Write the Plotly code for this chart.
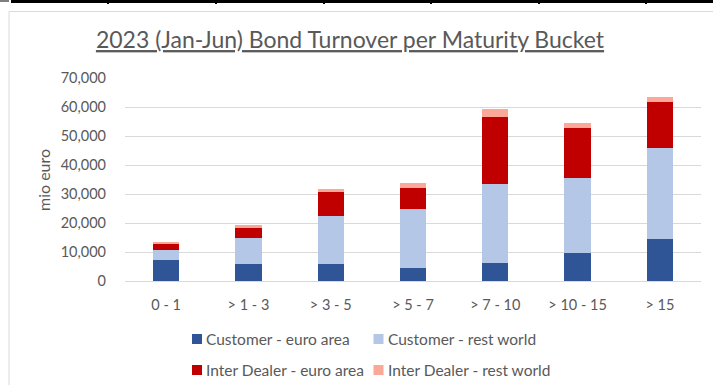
import plotly.graph_objects as go

# Maturity buckets (years) and turnover per segment, mio euro
buckets = ["0 - 1", "> 1 - 3", "> 3 - 5", "> 5 - 7", "> 7 - 10", "> 10 - 15", "> 15"]
customer_euro_area = [7400, 6000, 5800, 4400, 6200, 9800, 14400]
customer_rest_world = [3460, 8750, 16700, 20500, 27250, 25700, 31400]
dealer_euro_area = [1830, 3460, 8100, 7150, 23150, 17300, 16000]
dealer_rest_world = [700, 1140, 1140, 1620, 2650, 1600, 1750]

series_names = [
    "Customer - euro area",
    "Customer - rest world",
    "Inter Dealer - euro area",
    "Inter Dealer - rest world",
]
series_values = [customer_euro_area, customer_rest_world, dealer_euro_area, dealer_rest_world]
series_colors = ["#2F5597", "#B4C7E7", "#C00000", "#FBA898"]

W, H = 713, 385
M_L, M_R, M_T, M_B = 125, 12, 78, 104
TEXT = "#595959"
FONT = "Lato"

fig = go.Figure()
for name, vals, col in zip(series_names, series_values, series_colors):
    fig.add_trace(go.Bar(
        x=buckets, y=vals, name=name, showlegend=False,
        marker=dict(color=col, line=dict(width=0)),
    ))


def px_x(px):
    return (px - M_L) / (W - M_L - M_R)


def px_y(py):
    return (H - M_B - py) / (H - M_T - M_B)


shapes = []
annotations = []
# chart frame
shapes.append(dict(type="rect", xref="paper", yref="paper",
                   x0=px_x(9), x1=px_x(W + 5), y0=px_y(11.5), y1=px_y(H + 5),
                   line=dict(color="#D9D9D9", width=1), fillcolor="rgba(0,0,0,0)", layer="below"))
# sheet cell border above the chart
shapes.append(dict(type="rect", xref="paper", yref="paper",
                   x0=px_x(11), x1=px_x(W), y0=px_y(0), y1=px_y(3),
                   line=dict(width=0), fillcolor="#000000"))
shapes.append(dict(type="rect", xref="paper", yref="paper",
                   x0=px_x(0), x1=px_x(9), y0=px_y(0), y1=px_y(2),
                   line=dict(width=0), fillcolor="#7F7F7F"))
for cx in [108, 216, 324, 431, 539, 646]:
    shapes.append(dict(type="rect", xref="paper", yref="paper",
                       x0=px_x(cx - 1), x1=px_x(cx + 1), y0=px_y(0), y1=px_y(4),
                       line=dict(width=0), fillcolor="#000000"))

# legend: 2 x 2 grid of colour key + series name
legend_cols = [192, 373.5]
legend_rows = [339, 370]
for i, (name, col) in enumerate(zip(series_names, series_colors)):
    lx = legend_cols[i % 2]
    ly = legend_rows[i // 2]
    shapes.append(dict(type="rect", xref="paper", yref="paper",
                       x0=px_x(lx), x1=px_x(lx + 10), y0=px_y(ly + 5), y1=px_y(ly - 5),
                       line=dict(width=0), fillcolor=col))
    annotations.append(dict(
        text=name, showarrow=False, xref="paper", yref="paper",
        x=px_x(lx + 12), y=px_y(ly), xanchor="left", yanchor="middle",
        font=dict(family=FONT, size=15.5, color=TEXT),
    ))

annotations.append(dict(
    text="mio euro", textangle=-90, showarrow=False,
    xref="paper", yref="paper", x=px_x(43), y=px_y(180),
    xanchor="center", yanchor="middle",
    font=dict(family=FONT, size=16, color=TEXT),
))

fig.update_layout(
    width=W, height=H,
    margin=dict(l=M_L, r=M_R, t=M_T, b=M_B, pad=0),
    paper_bgcolor="white", plot_bgcolor="white",
    barmode="stack", bargap=0.68,
    font=dict(family=FONT, color=TEXT),
    title=dict(
        text="<u>2023 (Jan-Jun) Bond Turnover per Maturity Bucket</u>",
        font=dict(family=FONT, size=23, color=TEXT),
        xref="container", x=350 / W, xanchor="center",
        yref="container", y=1 - 40 / H, yanchor="middle",
    ),
    xaxis=dict(
        showgrid=False, showline=False, zeroline=False, ticks="",
        tickfont=dict(family=FONT, size=14.5, color=TEXT),
        ticklabelstandoff=13,
    ),
    yaxis=dict(
        range=[0, 70000], dtick=10000, tickformat=",",
        showgrid=True, gridcolor="#D9D9D9", gridwidth=1,
        zeroline=True, zerolinecolor="#D9D9D9", zerolinewidth=1,
        showline=False, ticks="",
        tickfont=dict(family=FONT, size=14.5, color=TEXT),
        ticklabelstandoff=18,
    ),
    showlegend=False,
    shapes=shapes,
    annotations=annotations,
)

fig.write_html("out.html")
